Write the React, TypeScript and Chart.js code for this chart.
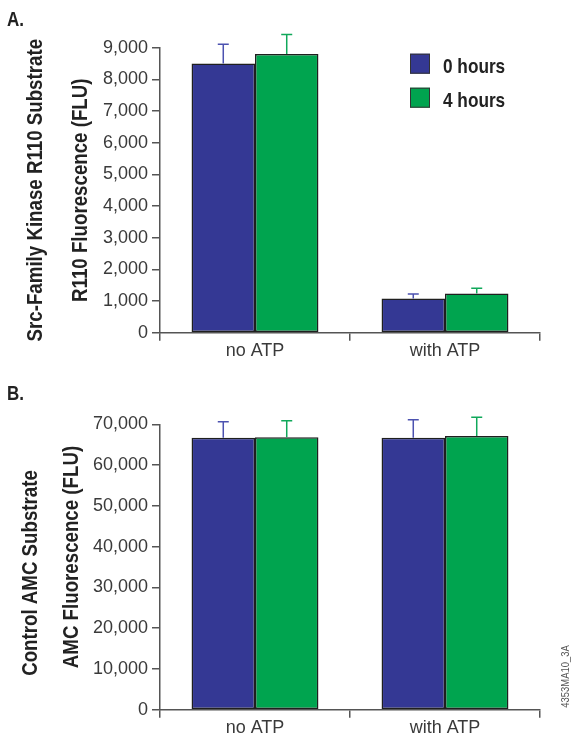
import React, { useEffect, useRef } from "react";
import { Chart, registerables } from "chart.js";

Chart.register(...registerables);

// ---------- data ----------
const categories = ["no ATP", "with ATP"];
const seriesLabels = ["0 hours", "4 hours"];

const panelA0h = [8500, 1080];
const panelA4h = [8800, 1240];
const panelA0hErr = [610, 140];
const panelA4hErr = [620, 160];
const panelAMax = 9000;
const panelAStep = 1000;
const panelATitle = ["Src-Family Kinase R110 Substrate", "R110 Fluorescence (FLU)"];

const panelB0h = [66700, 66700];
const panelB4h = [66800, 67150];
const panelB0hErr = [3900, 4400];
const panelB4hErr = [4100, 4550];
const panelBMax = 70000;
const panelBStep = 10000;
const panelBTitle = ["Control AMC Substrate", "AMC Fluorescence (FLU)"];

const watermark = "4353MA10_3A";

// ---------- styles ----------
const BLUE = "#343894";
const GREEN = "#00A44F";
const BLUE_ERR = "#4c52b0";
const GREEN_ERR = "#10a85a";
const AXIS = "#555555";
const TEXT = "#3a3a3a";
const TICK_FONT = "'Liberation Sans', Arial, sans-serif";
const BOLD_FONT = "'Liberation Sans', Arial, sans-serif";

function condensedText(
  ctx: CanvasRenderingContext2D,
  text: string,
  x: number,
  y: number,
  size: number,
  scaleX: number,
  rotation: number,
  align: CanvasTextAlign,
  color: string,
  weight = "bold"
) {
  ctx.save();
  ctx.translate(x, y);
  ctx.rotate(rotation);
  ctx.scale(scaleX, 1);
  ctx.font = `${weight} ${size}px ${BOLD_FONT}`;
  ctx.fillStyle = color;
  ctx.textAlign = align;
  ctx.textBaseline = "alphabetic";
  ctx.fillText(text, 0, 0);
  ctx.restore();
}

const errorBarPlugin = {
  id: "errorBars",
  afterDatasetsDraw(chart: any) {
    const ctx = chart.ctx;
    const yScale = chart.scales.y;
    chart.data.datasets.forEach((ds: any, i: number) => {
      const meta = chart.getDatasetMeta(i);
      meta.data.forEach((el: any, j: number) => {
        const v = ds.data[j];
        const e = ds.errors[j];
        const yTop = yScale.getPixelForValue(v + e);
        ctx.save();
        ctx.strokeStyle = ds.errorColor;
        ctx.lineWidth = 1.5;
        ctx.beginPath();
        ctx.moveTo(el.x, el.y);
        ctx.lineTo(el.x, yTop);
        ctx.moveTo(el.x - 5.5, yTop);
        ctx.lineTo(el.x + 5.5, yTop);
        ctx.stroke();
        ctx.restore();
      });
    });
  },
};

const decorPlugin = {
  id: "decor",
  afterDraw(chart: any, _args: any, opts: any) {
    const ctx = chart.ctx as CanvasRenderingContext2D;
    const ca = chart.chartArea;
    const midY = (ca.top + ca.bottom) / 2;
    // axis titles (two lines, rotated)
    opts.titles.forEach((t: string, i: number) => {
      condensedText(ctx, t, opts.titleX[i], midY + (opts.titleShift?.[i] ?? 0), 22, 0.85, -Math.PI / 2, "center", "#222222");
    });
    // panel letter
    condensedText(ctx, opts.panel, 7, opts.panelY, 20, 0.85, 0, "left", "#222222");
    // legend
    if (opts.legend) {
      chart.data.datasets.forEach((ds: any, i: number) => {
        const bx = ca.right - 130;
        const by = ca.top + 6 + i * 34;
        ctx.save();
        ctx.fillStyle = ds.backgroundColor;
        ctx.fillRect(bx, by, 20, 20);
        ctx.strokeStyle = "#333";
        ctx.lineWidth = 1;
        ctx.strokeRect(bx + 0.5, by + 0.5, 19, 19);
        ctx.restore();
        condensedText(ctx, ds.label, bx + 33, by + 19, 21, 0.82, 0, "left", "#222222");
      });
    }
    if (opts.watermark) {
      condensedText(ctx, opts.watermark, 569, ca.bottom - 2, 10.5, 0.9, -Math.PI / 2, "left", "#555555", "normal");
    }
  },
};

function makeConfig(p: any): any {
  return {
    type: "bar",
    data: {
      labels: categories,
      datasets: [
        {
          label: seriesLabels[0],
          data: p.v0,
          errors: p.e0,
          errorColor: BLUE_ERR,
          backgroundColor: BLUE,
          borderColor: "#1f1f1f",
          borderWidth: 1.5,
          borderSkipped: false,
          categoryPercentage: 0.668,
          barPercentage: 1,
        },
        {
          label: seriesLabels[1],
          data: p.v4,
          errors: p.e4,
          errorColor: GREEN_ERR,
          backgroundColor: GREEN,
          borderColor: "#1f1f1f",
          borderWidth: 1.5,
          borderSkipped: false,
          categoryPercentage: 0.668,
          barPercentage: 1,
        },
      ],
    },
    options: {
      responsive: false,
      maintainAspectRatio: false,
      animation: false,
      layout: { padding: { top: p.top, right: 31, left: 0, bottom: 0 } },
      plugins: {
        legend: { display: false },
        tooltip: { enabled: false },
        decor: p.decor,
      },
      scales: {
        x: {
          grid: { offset: true, drawOnChartArea: false, drawTicks: true, tickLength: 8, color: AXIS, lineWidth: 1.5 },
          border: { color: AXIS, width: 1.5 },
          ticks: { color: TEXT, font: { family: TICK_FONT, size: 18 }, padding: 0, maxRotation: 0 },
          afterFit: (s: any) => {
            s.height = p.xHeight;
          },
        },
        y: {
          min: 0,
          max: p.max,
          ticks: {
            stepSize: p.step,
            color: TEXT,
            font: { family: TICK_FONT, size: 18 },
            padding: 4,
            callback: (v: any) => Number(v).toLocaleString("en-US"),
          },
          grid: { drawOnChartArea: false, drawTicks: true, tickLength: 8, color: AXIS, lineWidth: 1.5 },
          border: { color: AXIS, width: 1.5 },
          afterFit: (s: any) => {
            s.width = 160;
          },
        },
      },
    },
    plugins: [errorBarPlugin, decorPlugin],
  };
}

function Panel(props: { cfg: any; top: number; height: number }) {
  const ref = useRef<HTMLCanvasElement | null>(null);
  useEffect(() => {
    if (!ref.current) return;
    const chart = new Chart(ref.current, makeConfig(props.cfg));
    return () => chart.destroy();
  }, []);
  return (
    <canvas
      ref={ref}
      width={571}
      height={props.height}
      style={{ position: "absolute", left: 0, top: props.top, width: 571, height: props.height, display: "block" }}
    />
  );
}

export default function App() {
  const cfgA = {
    v0: panelA0h,
    v4: panelA4h,
    e0: panelA0hErr,
    e4: panelA4hErr,
    max: panelAMax,
    step: panelAStep,
    top: 47.7,
    xHeight: 37.3,
    decor: { titles: panelATitle, titleX: [41.7, 86.7], panel: "A.", panelY: 26, legend: true },
  };
  const cfgB = {
    v0: panelB0h,
    v4: panelB4h,
    e0: panelB0hErr,
    e4: panelB4hErr,
    max: panelBMax,
    step: panelBStep,
    top: 54.3,
    xHeight: 27.3,
    decor: { titles: panelBTitle, titleX: [36.5, 77.5], titleShift: [6, -10], panel: "B.", panelY: 30, legend: false, watermark },
  };
  return (
    <div style={{ position: "absolute", left: 0, top: 0, width: 571, height: 737, background: "#fff" }}>
      <Panel cfg={cfgA} top={0} height={370} />
      <Panel cfg={cfgB} top={370} height={367} />
    </div>
  );
}
